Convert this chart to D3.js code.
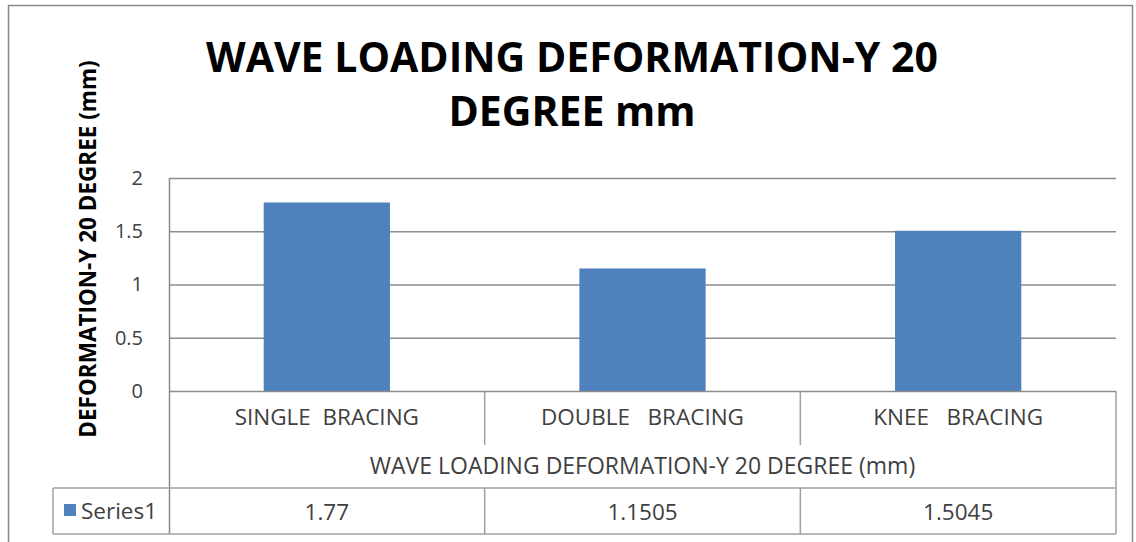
<!DOCTYPE html>
<html>
<head>
<meta charset="utf-8">
<script src="https://cdn.jsdelivr.net/npm/d3@7"></script>
<style>
  body { margin: 0; background: #fff; }
  text { font-family: "Open Sans", sans-serif; }
</style>
</head>
<body>
<div id="chart"></div>
<script>
var categories = ["SINGLE  BRACING", "DOUBLE   BRACING", "KNEE   BRACING"];
var values = [1.77, 1.1505, 1.5045];
var yTicks = [0, 0.5, 1, 1.5, 2];
var seriesName = "Series1";
var titleLines = ["WAVE LOADING DEFORMATION-Y 20", "DEGREE mm"];
var xTitle = "WAVE LOADING DEFORMATION-Y 20 DEGREE (mm)";
var yTitle = "DEFORMATION-Y 20 DEGREE (mm)";

const w = 1136;
const h = 542;
const plotL = 169, plotR = 1116, plotT = 178, plotB = 391;
const tableLeft = 53, rowCat = 445, rowTitle = 488, rowEnd = 534;
const blue = "#4f81bd";
const grid = "#8c8c8c";
const lineCol = "#a0a0a0";
const textCol = "#404040";

var svg = d3.select("#chart").append("svg")
  .attr("width", w)
  .attr("height", h);

// outer frame
svg.append("rect")
  .attr("x", 8.5).attr("y", 5.5)
  .attr("width", 1124).attr("height", 545)
  .attr("fill", "#fff")
  .attr("stroke", "#888").attr("stroke-width", 1.5);

var x = d3.scaleBand()
  .domain(categories)
  .range([plotL, plotR])
  .paddingInner(0.6)
  .paddingOuter(0.3);

var y = d3.scaleLinear()
  .domain([0, 2])
  .range([plotB, plotT]);

// title
svg.append("g").selectAll("text")
  .data(titleLines)
  .enter().append("text")
  .attr("x", 572)
  .attr("y", function (d, i) { return 72 + i * 54; })
  .attr("text-anchor", "middle")
  .attr("font-size", 41)
  .attr("font-weight", "bold")
  .attr("fill", "#000")
  .text(function (d) { return d; });

// gridlines
svg.append("g").selectAll("line")
  .data(yTicks.filter(function (d) { return d > 0; }))
  .enter().append("line")
  .attr("x1", plotL).attr("x2", plotR)
  .attr("y1", function (d) { return y(d) + 0.5; })
  .attr("y2", function (d) { return y(d) + 0.5; })
  .attr("stroke", grid).attr("stroke-width", 1.5);

// y axis labels
var yAxis = d3.axisLeft(y)
  .tickValues(yTicks)
  .tickFormat(function (d) { return String(d); })
  .tickSize(0)
  .tickPadding(26);
var ya = svg.append("g")
  .attr("transform", "translate(" + plotL + ",0)")
  .call(yAxis);
ya.select(".domain").remove();
ya.selectAll("text")
  .attr("font-family", "Open Sans, sans-serif")
  .attr("font-size", 20)
  .attr("fill", textCol);

// bars
svg.append("g").selectAll("rect")
  .data(values)
  .enter().append("rect")
  .attr("x", function (d, i) { return x(categories[i]); })
  .attr("y", function (d) { return y(d); })
  .attr("width", x.bandwidth())
  .attr("height", function (d) { return y(0) - y(d); })
  .attr("fill", blue);

// data table lines
var tbl = svg.append("g")
  .attr("stroke", lineCol).attr("stroke-width", 1.5).attr("fill", "none");
tbl.append("line").attr("x1", plotL).attr("x2", plotR).attr("y1", plotB + 0.5).attr("y2", plotB + 0.5).attr("stroke", grid);
tbl.append("line").attr("x1", plotL + 0.5).attr("x2", plotL + 0.5).attr("y1", plotT).attr("y2", rowEnd).attr("stroke", grid);
tbl.append("line").attr("x1", plotR).attr("x2", plotR).attr("y1", plotB).attr("y2", rowEnd);
tbl.append("line").attr("x1", tableLeft).attr("x2", plotR).attr("y1", rowTitle).attr("y2", rowTitle);
tbl.append("line").attr("x1", tableLeft).attr("x2", plotR).attr("y1", rowEnd).attr("y2", rowEnd);
tbl.append("line").attr("x1", tableLeft).attr("x2", tableLeft).attr("y1", rowTitle).attr("y2", rowEnd);

var dividers = categories.slice(1).map(function (c) {
  return x(c) - x.step() * x.paddingInner() / 2;
});
tbl.selectAll(".catdiv")
  .data(dividers)
  .enter().append("line")
  .attr("x1", function (d) { return d; }).attr("x2", function (d) { return d; })
  .attr("y1", plotB).attr("y2", rowCat);
tbl.selectAll(".valdiv")
  .data(dividers)
  .enter().append("line")
  .attr("x1", function (d) { return d; }).attr("x2", function (d) { return d; })
  .attr("y1", rowTitle).attr("y2", rowEnd);

// category labels
svg.append("g").selectAll("text")
  .data(categories)
  .enter().append("text")
  .attr("x", function (d) { return x(d) + x.bandwidth() / 2; })
  .attr("y", 425)
  .attr("text-anchor", "middle")
  .attr("font-size", 22.5)
  .attr("fill", textCol)
  .style("white-space", "pre")
  .text(function (d) { return d; });

// x axis title inside table
svg.append("text")
  .attr("x", (plotL + plotR) / 2)
  .attr("y", 474)
  .attr("text-anchor", "middle")
  .attr("font-size", 23)
  .attr("fill", textCol)
  .text(xTitle);

// value row
svg.append("g").selectAll("text")
  .data(values)
  .enter().append("text")
  .attr("x", function (d, i) { return x(categories[i]) + x.bandwidth() / 2; })
  .attr("y", 520)
  .attr("text-anchor", "middle")
  .attr("font-size", 22.5)
  .attr("fill", textCol)
  .text(function (d) { return String(d); });

// legend key
svg.append("rect")
  .attr("x", 64).attr("y", 504)
  .attr("width", 12).attr("height", 12)
  .attr("fill", blue);
svg.append("text")
  .attr("x", 81).attr("y", 519)
  .attr("font-size", 22.5)
  .attr("fill", textCol)
  .text(seriesName);

// y axis title
svg.append("text")
  .attr("transform", "translate(96,249) rotate(-90)")
  .attr("text-anchor", "middle")
  .attr("font-size", 22.5)
  .attr("font-weight", "bold")
  .attr("fill", "#000")
  .text(yTitle);
</script>
</body>
</html>
